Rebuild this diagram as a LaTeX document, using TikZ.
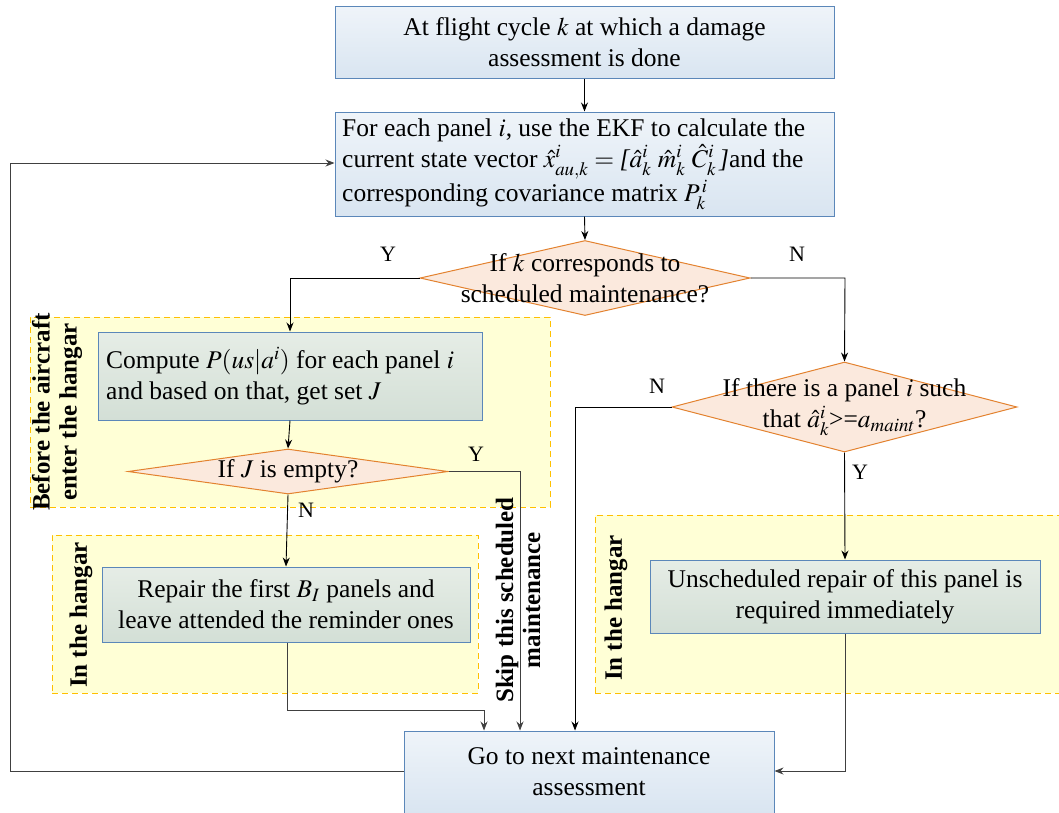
\documentclass[tikz,border=0pt]{standalone}
\usepackage{mathptmx}
\usepackage{fontspec}
\setmainfont{Liberation Serif}
\usetikzlibrary{shapes.geometric,arrows.meta}
\definecolor{boxborder}{HTML}{5B87B9}
\definecolor{bluetop}{HTML}{EFF4F9}
\definecolor{bluebot}{HTML}{D9E5F1}
\definecolor{greentop}{HTML}{E6EDE6}
\definecolor{greenbot}{HTML}{D3DFD6}
\definecolor{diafill}{HTML}{FBE9DD}
\definecolor{diaborder}{HTML}{E3822F}
\definecolor{zonefill}{HTML}{FFFFD6}
\definecolor{zoneborder}{HTML}{FFC000}
\definecolor{linegray}{HTML}{404040}
\tikzset{
  x=1pt,y=-1pt,
  txt/.style={font=\fontsize{25.5}{31}\selectfont},
  bluebox/.style={draw=boxborder,line width=1pt,top color=bluetop,bottom color=bluebot,
    inner sep=0pt,txt},
  greenbox/.style={draw=boxborder,line width=1pt,top color=greentop,bottom color=greenbot,
    inner sep=0pt,txt},
  dia/.style={diamond,draw=diaborder,line width=1pt,fill=diafill,inner sep=0pt,aspect=4},
  zone/.style={draw=zoneborder,fill=zonefill,line width=1pt,dash pattern=on 6pt off 4pt},
  zonelabel/.style={rotate=90,font=\fontsize{25}{27}\selectfont\bfseries,align=center},
  yn/.style={font=\fontsize{22}{24}\selectfont},
  arr/.style={-{Stealth[length=9pt,width=7pt]},line width=0.9pt},
}
\begin{document}
\begin{tikzpicture}
\useasboundingbox (0,0) rectangle (1059,812);
% zones
\node[zone,minimum width=520,minimum height=190] (z1) at (290,412) {};
\node[zone,minimum width=426,minimum height=158] (z2) at (265,614) {};
\node[zone,minimum width=470,minimum height=178] (z3) at (830,604) {};
\node[zonelabel] (l1) at (57,412) {Before the aircraft\\enter the hangar};
\node[zonelabel] (l2) at (81,615) {In the hangar};
\node[zonelabel] (l3) at (616,608) {In the hangar};
% boxes
\node[bluebox,minimum width=499,minimum height=72,align=center] (b1) at (584.5,42) {At flight cycle $k$ at which a damage\\assessment is done};
\node[bluebox,minimum width=499,minimum height=104] (b2) at (584.5,164) {};
\node[txt,anchor=west,align=left,inner sep=0pt] (b2t) at (342,164) {For each panel $i$, use the EKF to calculate the\\current state vector $\hat{x}^{i}_{au,k}=\textit{[}\hat{a}^{i}_{k}\ \hat{m}^{i}_{k}\ \hat{C}^{i}_{k}\,\textit{]}$and the\\corresponding covariance matrix $P_{k}^{\,i}$};
\node[dia,minimum width=330,minimum height=75] (d1) at (585,278) {};
\node[txt,align=center] (d1t) at (585,278) {If $k$ corresponds to\\scheduled maintenance?};
\node[greenbox,minimum width=384,minimum height=88] (b3) at (290,376) {};
\node[txt,anchor=west,align=left,inner sep=0pt] (b3t) at (106,376) {Compute $P(us|a^{i})$ for each panel $i$\\and based on that, get set $J$};
\node[dia,minimum width=320,minimum height=45] (d2) at (288,471.5) {};
\node[txt] (d2t) at (288,471.5) {If $J$ is empty?};
\node[greenbox,minimum width=368,minimum height=75,align=center] (b4) at (286,604.5) {Repair the first $B_{I}$ panels and\\leave attended the reminder ones};
\node[dia,minimum width=345,minimum height=90] (d3) at (844.5,407) {};
\node[txt,align=center] (d3t) at (844.5,407) {If there is a panel $i$ such\\that $\hat{a}^{i}_{k}$>=$a_{maint}$?};
\node[greenbox,minimum width=390,minimum height=73,align=center] (b5) at (845,596.5) {Unscheduled repair of this panel is\\required immediately};
\node[bluebox,minimum width=370,minimum height=82,align=center] (b6) at (589,772) {Go to next maintenance\\assessment};
% skip label
\node[zonelabel] (l4) at (518,600) {Skip this scheduled\\maintenance};
% coordinates
\coordinate (c1) at (290,278);
\coordinate (c2) at (845,278);
\coordinate (c3) at (520,471.5);
\coordinate (c4) at (287,710);
\coordinate (c5) at (484,710);
\coordinate (c6) at (575,407);
\coordinate (c7) at (845,771);
\coordinate (c8) at (10,771);
\coordinate (c9) at (10,163);
% connectors
\draw[arr] (b1.south) -- (b2.north);
\draw[arr] (b2.south) -- (d1.north);
\draw[arr] (d1.west) -- (c1) -- (b3.north);
\draw[arr] (d1.east) -- (c2) -- (d3.north);
\draw[arr] (b3.south) -- (d2.north);
\draw[arr] (d2.south) -- (b4.north);
\draw[arr,draw=linegray] (d2.east) -- (c3) -- (c3 |- b6.north);
\draw[arr,draw=linegray] (b4.south -| c4) -- (c4) -- (c5) -- (c5 |- b6.north);
\draw[arr] (d3.west) -- (c6) -- (c6 |- b6.north);
\draw[arr] (d3.south) -- (b5.north);
\draw[arr,draw=linegray] (b5.south) -- (c7) -- (b6.east |- c7);
\draw[arr,draw=linegray] (b6.west |- c8) -- (c8) -- (c9) -- (b2.west |- c9);
% labels
\node[yn] (y1) at (388,254) {Y};
\node[yn] (n1) at (797,254) {N};
\node[yn] (y2) at (476,454) {Y};
\node[yn] (n2) at (306,510) {N};
\node[yn] (n3) at (657,386) {N};
\node[yn] (y3) at (860,472) {Y};
\end{tikzpicture}
\end{document}
